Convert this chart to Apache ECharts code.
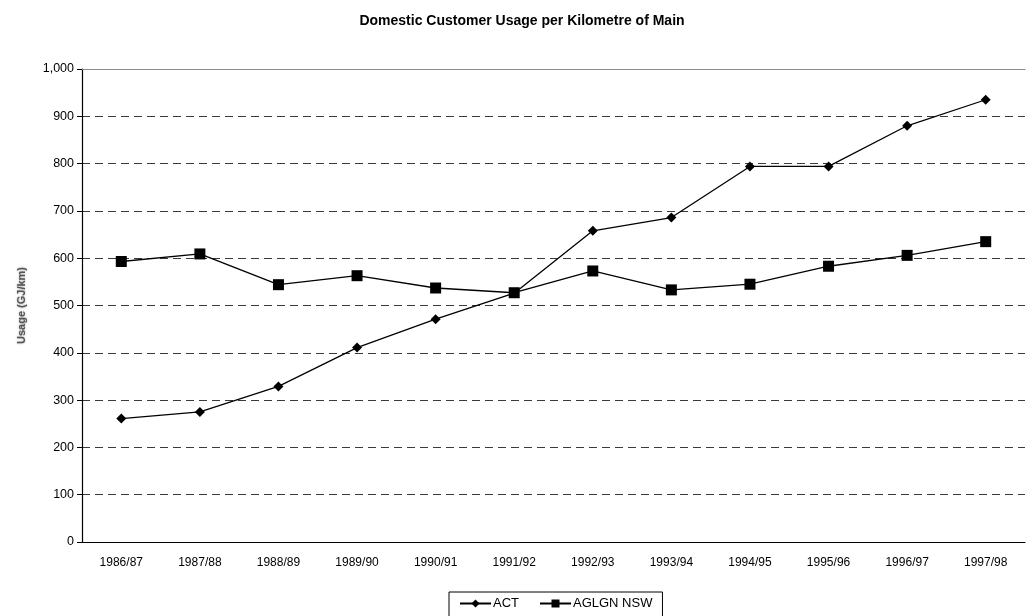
<!DOCTYPE html>
<html>
<head>
<meta charset="utf-8">
<title>Domestic Customer Usage per Kilometre of Main</title>
<script src="https://cdn.jsdelivr.net/npm/echarts@6/dist/echarts.min.js"></script>
<style>
  html, body { margin: 0; padding: 0; background: #fff; }
  #chart { width: 1030px; height: 616px; }
</style>
</head>
<body>
<div id="chart"></div>
<script>
// Financial years along the category axis
const years = ['1986/87', '1987/88', '1988/89', '1989/90', '1990/91', '1991/92',
               '1992/93', '1993/94', '1994/95', '1995/96', '1996/97', '1997/98'];

// Domestic usage per kilometre of main (GJ/km)
const actUsage   = [261, 275, 329, 411, 471, 526, 658, 686, 794, 794, 880, 935];
const aglgnUsage = [593, 609, 544, 563, 537, 527, 573, 533, 545, 583, 606, 635];

// Value axis ticks
const yMin = 0, yMax = 1000, yStep = 100;

const fontFamily = 'Liberation Sans, Arial, sans-serif';
const fmt = v => v.toLocaleString('en-US');

const chart = echarts.init(document.getElementById('chart'), null, { renderer: 'canvas' });

chart.setOption({
  backgroundColor: '#ffffff',
  animation: false,
  title: {
    text: 'Domestic Customer Usage per Kilometre of Main',
    left: 517,
    textAlign: 'center',
    top: 9,
    textStyle: { fontFamily, fontSize: 14, fontWeight: 'bold', color: '#000' }
  },
  legend: {
    data: ['ACT', 'AGLGN NSW'],
    left: 449,
    top: 592,
    width: 226,
    padding: [5, 10, 8, 10],
    borderColor: '#000',
    borderWidth: 1,
    itemWidth: 31,
    itemHeight: 10,
    itemGap: 20,
    textStyle: { fontFamily, fontSize: 13, color: '#000', padding: [0, 0, 0, -3] }
  },
  grid: { left: 82, right: 5, top: 69, bottom: 74, containLabel: false },
  xAxis: [
    {
      type: 'category',
      data: years,
      boundaryGap: true,
      axisLine: { lineStyle: { color: '#000', width: 1.2 } },
      axisTick: { show: false },
      axisLabel: { fontFamily, fontSize: 12, color: '#000', margin: 15, interval: 0 }
    },
    {
      // thin frame line along the top of the plot area
      type: 'category',
      data: years,
      position: 'top',
      axisLine: { show: true, lineStyle: { color: '#8c8c8c', width: 1.2 } },
      axisTick: { show: false },
      axisLabel: { show: false },
      splitLine: { show: false }
    }
  ],
  yAxis: {
    type: 'value',
    min: yMin,
    max: yMax,
    interval: yStep,
    name: 'Usage (GJ/km)',
    nameLocation: 'middle',
    nameGap: 55,
    nameTextStyle: {
      fontFamily, fontSize: 11, fontWeight: 'bold', color: '#555',
      textShadowColor: 'rgba(80,80,80,0.6)', textShadowBlur: 2
    },
    axisLine: { show: true, lineStyle: { color: '#000', width: 1.2 } },
    axisTick: { show: true, length: 5, lineStyle: { color: '#000' } },
    axisLabel: { fontFamily, fontSize: 12.5, color: '#000', margin: 8, formatter: v => fmt(v) },
    splitLine: {
      show: true,
      lineStyle: { color: '#3a3a3a', width: 1, type: [8, 5] }
    }
  },
  series: [
    {
      name: 'ACT',
      type: 'line',
      data: actUsage,
      symbol: 'diamond',
      symbolSize: 10,
      itemStyle: { color: '#000' },
      lineStyle: { color: '#000', width: 1.3 },
      z: 3
    },
    {
      name: 'AGLGN NSW',
      type: 'line',
      data: aglgnUsage,
      symbol: 'rect',
      symbolSize: 11,
      itemStyle: { color: '#000' },
      lineStyle: { color: '#000', width: 1.3 },
      z: 4
    }
  ]
});
</script>
</body>
</html>
